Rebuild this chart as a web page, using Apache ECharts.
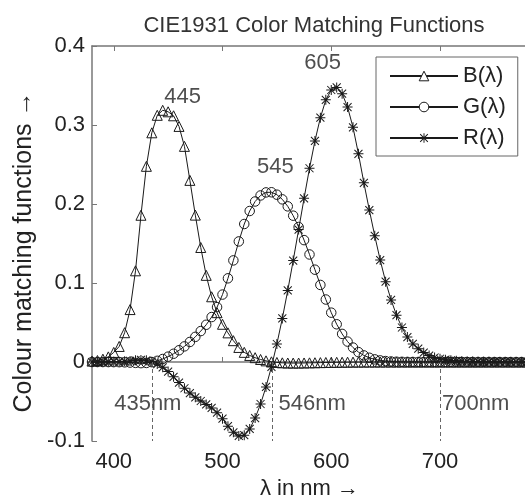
<!DOCTYPE html>
<html>
<head>
<meta charset="utf-8">
<script src="https://cdn.jsdelivr.net/npm/echarts@6/dist/echarts.min.js"></script>
<style>html,body{margin:0;padding:0;background:#fff;}#c{width:525px;height:499px;}</style>
</head>
<body>
<div id="c"></div>
<script>
// Wavelengths (nm)
const wavelengths = [380,385,390,395,400,405,410,415,420,425,430,435,440,445,450,455,460,465,470,475,
  480,485,490,495,500,505,510,515,520,525,530,535,540,545,550,555,560,565,570,575,
  580,585,590,595,600,605,610,615,620,625,630,635,640,645,650,655,660,665,670,675,
  680,685,690,695,700,705,710,715,720,725,730,735,740,745,750,755,760,765,770,775,780];
// B(λ)
const bValues = [0.00117,0.00189,0.00359,0.00647,0.01214,0.01969,0.03707,0.06637,0.11541,0.18575,
  0.24769,0.29012,0.31228,0.31860,0.31670,0.31166,0.29821,0.27295,0.22991,0.18592,
  0.14494,0.10968,0.08257,0.06246,0.04776,0.03688,0.02698,0.01842,0.01221,0.00830,
  0.00549,0.00320,0.00146,0.00023,-0.00058,-0.00105,-0.00130,-0.00138,-0.00135,-0.00123,
  -0.00108,-0.00093,-0.00079,-0.00063,-0.00049,-0.00038,-0.00030,-0.00022,-0.00015,-0.00011,
  -0.00008,-0.00005,-0.00003,-0.00002,-0.00001,-0.00001,0,0,0,0,
  0,0,0,0,0,0,0,0,0,0,0,0,0,0,0,0,0,0,0,0,0];
// G(λ)
const gValues = [-0.00001,-0.00002,-0.00004,-0.00007,-0.00014,-0.00022,-0.00041,-0.00070,-0.00110,-0.00143,
  -0.00119,-0.00021,0.00149,0.00379,0.00678,0.01046,0.01485,0.01977,0.02538,0.03183,
  0.03914,0.04713,0.05689,0.06948,0.08536,0.10593,0.12860,0.15262,0.17468,0.19113,
  0.20317,0.21083,0.21466,0.21487,0.21178,0.20588,0.19702,0.18522,0.17087,0.15429,
  0.13610,0.11686,0.09754,0.07909,0.06246,0.04776,0.03557,0.02583,0.01828,0.01253,
  0.00833,0.00537,0.00334,0.00199,0.00116,0.00066,0.00037,0.00021,0.00011,0.00006,
  0.00003,0.00001,0,0,0,0,0,0,0,0,0,0,0,0,0,0,0,0,0,0,0];
// R(λ)
const rValues = [0.00003,0.00005,0.00010,0.00017,0.00030,0.00047,0.00084,0.00139,0.00211,0.00266,
  0.00218,0.00036,-0.00261,-0.00673,-0.01213,-0.01874,-0.02608,-0.03324,-0.03933,-0.04471,
  -0.04939,-0.05364,-0.05814,-0.06414,-0.07173,-0.08120,-0.08901,-0.09356,-0.09264,-0.08473,
  -0.07101,-0.05316,-0.03152,-0.00613,0.02279,0.05514,0.09060,0.12840,0.16768,0.20715,
  0.24526,0.27989,0.30928,0.33184,0.34429,0.34756,0.33971,0.32265,0.29708,0.26348,
  0.22677,0.19233,0.15968,0.12905,0.10167,0.07857,0.05932,0.04366,0.03149,0.02294,
  0.01687,0.01187,0.00819,0.00572,0.00410,0.00291,0.00210,0.00148,0.00105,0.00074,
  0.00052,0.00036,0.00025,0.00017,0.00012,0.00008,0.00006,0.00004,0.00003,0.00001,0];
const seriesNames = ['B(λ)','G(λ)','R(λ)'];
const xTicks = [400,500,600,700];
const peakWavelengths = [445,545,605];
const refLines = [435,546,700];
const refLabels = ['435nm','546nm','700nm'];

const INK = '#1a1a1a';
const FONT = "'Liberation Sans', Arial, sans-serif";
const FS = 22;
const star = 'path://M9 0 L11 0 L11 20 L9 20 Z M0 9 L20 9 L20 11 L0 11 Z M2.7 1.3 L18.7 17.3 L17.3 18.7 L1.3 2.7 Z M17.3 1.3 L18.7 2.7 L2.7 18.7 L1.3 17.3 Z';

const toPairs = arr => wavelengths.map((w,i)=>[w, arr[i]]);
const allVals = [bValues, gValues, rValues];
const peakPoints = peakWavelengths.map((w,k)=>[w, allVals[k][wavelengths.indexOf(w)], String(w)]);
const peakOffsets = [[20,3],[4,-9],[-14,-8]];
const refLabelOffsets = [[-4,-2],[6,-2],[2,-2]];

const mk = (name, data, symbol, size, filled) => ({
  name, type:'line', data, symbol, symbolSize:size, showAllSymbol:true,
  lineStyle:{color:INK, width:1},
  itemStyle: filled ? {color:INK, borderWidth:0} : {color:'rgba(0,0,0,0)', borderColor:INK, borderWidth:1},
  emphasis:{disabled:true}, animation:false, clip:false
});

const chart = echarts.init(document.getElementById('c'));
chart.setOption({
  backgroundColor:'#fff',
  animation:false,
  title:{text:'CIE1931 Color Matching Functions', left:309, top:10, textAlign:'center',
    textStyle:{fontFamily:FONT, fontSize:FS, fontWeight:'normal', color:'#333'}},
  grid:{left:92, top:46, width:435, height:395, show:false, outerBoundsMode:'none', containLabel:false},
  legend:{
    data:[
      {name:seriesNames[0], itemStyle:{color:'#fff', borderColor:INK, borderWidth:1}},
      {name:seriesNames[1], itemStyle:{color:'#fff', borderColor:INK, borderWidth:1}},
      {name:seriesNames[2]}
    ],
    orient:'vertical', left:376, top:57,
    itemWidth:68, itemHeight:12, itemGap:9, padding:[8,12,7,13],
    borderColor:'#666', borderWidth:1, backgroundColor:'#fff',
    textStyle:{fontFamily:FONT, fontSize:FS, lineHeight:22, color:'#222'},
    selectedMode:false
  },
  xAxis:[{
    type:'value', min:380, max:780,
    name:'λ in nm →', nameLocation:'middle', nameGap:31,
    nameTextStyle:{fontFamily:FONT, fontSize:FS, color:'#222'},
    axisLine:{lineStyle:{color:'#777', width:1.5}},
    axisTick:{inside:true, length:5, customValues:xTicks, lineStyle:{color:'#777'}},
    axisLabel:{customValues:xTicks, margin:10, fontFamily:FONT, fontSize:FS, color:'#222'},
    splitLine:{show:false}
  },{
    type:'value', min:380, max:780, position:'top',
    axisLine:{show:true, lineStyle:{color:'#777', width:1.5}},
    axisTick:{inside:true, length:5, customValues:xTicks, lineStyle:{color:'#777'}},
    axisLabel:{show:false}, splitLine:{show:false}
  }],
  yAxis:{
    type:'value', min:-0.1, max:0.4, interval:0.1,
    name:'Colour matching functions →', nameLocation:'middle', nameGap:53,
    nameTextStyle:{fontFamily:FONT, fontSize:25, color:'#222', padding:[0,17,0,0]},
    axisLine:{show:true, lineStyle:{color:'#777', width:1.5}},
    axisTick:{show:true, inside:true, length:5, lineStyle:{color:'#777'}},
    axisLabel:{margin:7, fontFamily:FONT, fontSize:FS, color:'#222',
      formatter:v=>String(Math.round(v*10)/10)},
    splitLine:{show:false}
  },
  series:[
    mk(seriesNames[0], toPairs(bValues), 'triangle', 10, false),
    mk(seriesNames[1], toPairs(gValues), 'circle', 9.5, false),
    mk(seriesNames[2], toPairs(rValues), star, 10, true),
    {
      type:'line', data:[], silent:true,
      markLine:{
        symbol:'none', silent:true, animation:false,
        lineStyle:{color:'#666', type:[4,3], width:1},
        label:{show:false},
        data: refLines.map(w=>[{coord:[w,0]},{coord:[w,-0.1]}])
      }
    },
    {
      type:'scatter', symbolSize:0, silent:true,
      data: peakPoints.map((p,k)=>({value:p, label:{offset:peakOffsets[k]}})),
      label:{show:true, position:'top', distance:5, formatter:p=>p.value[2],
        fontFamily:FONT, fontSize:FS, color:'#222'}
    },
    {
      type:'scatter', symbolSize:0, silent:true,
      data: refLines.map((w,k)=>({value:[w,-0.055,refLabels[k]],
        label:{offset:refLabelOffsets[k], align: k===0?'center':'left'}})),
      label:{show:true, position:'inside', formatter:p=>p.value[2],
        fontFamily:FONT, fontSize:FS, color:'#222'}
    }
  ]
});
</script>
</body>
</html>
